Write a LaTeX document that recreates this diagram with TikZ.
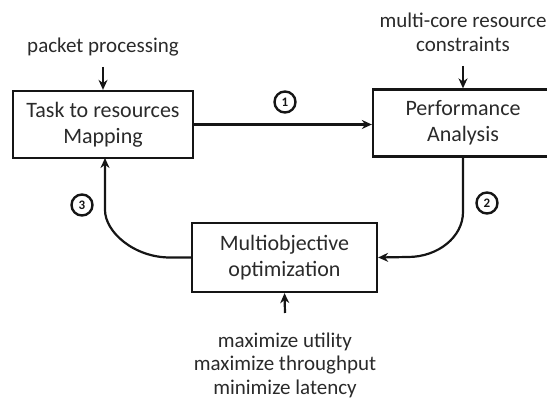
\documentclass[tikz,border=0pt]{standalone}
\usepackage{fontspec}
\setmainfont{Carlito}
\usetikzlibrary{arrows.meta}
\definecolor{ink}{HTML}{151515}
\definecolor{txt}{HTML}{2A2A2A}
\begin{document}
\begin{tikzpicture}[x=1pt,y=-1pt,
  box/.style={draw=ink, line width=2.3pt, minimum width=180pt, minimum height=67pt,
    align=center, inner sep=0pt, text=txt, font=\fontsize{22}{26}\selectfont},
  lbl/.style={align=center, text=txt, font=\fontsize{21}{23.5}\selectfont},
  flow/.style={draw=ink, line width=2.2pt, -{Stealth[length=10pt,width=9pt]}},
  num/.style={circle, draw=ink, line width=2.4pt, minimum size=21pt, inner sep=0pt,
    text=ink, font=\bfseries\fontsize{13}{13}\selectfont}
]
\useasboundingbox (0,0) rectangle (547,403);

% main blocks
\node[box] (map)  at (103,124.5) {Task to resources\\Mapping};
\node[box] (perf) at (463,123) {Performance\\Analysis};
\node[box, minimum width=185pt, minimum height=69pt] (opt) at (284.5,257.5) {Multiobjective\\optimization};

% inputs
\node[lbl] (pkt) at (103,47) {packet processing};
\node[lbl] (mc)  at (463,32.5) {multi-core resource\\constraints};
\node[lbl] (obj) at (285,365) {maximize utility\\maximize throughput\\minimize latency};
\coordinate (pktin) at (103,67);
\coordinate (mcin)  at (463,66);
\coordinate (objin) at (285,313);

\draw[flow] (pktin) -- (map.north);
\draw[flow] (mcin) -- (perf.north);
\draw[flow] (objin) -- (opt.south);

% loop
\draw[flow] (map.east) -- (map.east -| perf.west);
\draw[flow] (perf.south) -- (463,212) .. controls (463,237) and (438,257) .. (408,257) -- (opt.east);
\draw[flow] (opt.west) -- (170,257.5) .. controls (134,257.5) and (105,232) .. (105,210) -- (105,158);

% step numbers
\node[num] (n1) at (285,102) {1};
\node[num] (n2) at (487,203) {2};
\node[num] (n3) at (82,205) {3};
\end{tikzpicture}
\end{document}
